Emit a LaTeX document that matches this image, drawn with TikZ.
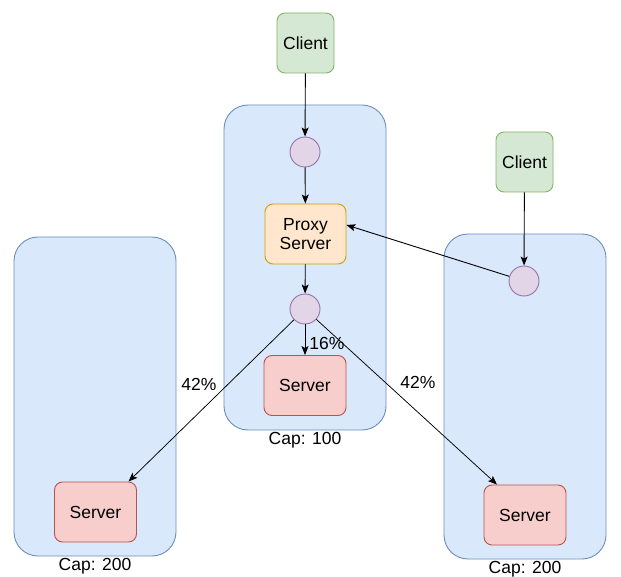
\documentclass[tikz,border=0pt]{standalone}
\usepackage{fontspec}
\setmainfont{Liberation Sans}
\usetikzlibrary{arrows.meta}
\definecolor{bfill}{HTML}{DAE8FC}\definecolor{bline}{HTML}{6C8EBF}
\definecolor{gfill}{HTML}{D5E8D4}\definecolor{gline}{HTML}{82B366}
\definecolor{ofill}{HTML}{FFE6CC}\definecolor{oline}{HTML}{D79B00}
\definecolor{rfill}{HTML}{F8CECC}\definecolor{rline}{HTML}{B85450}
\definecolor{pfill}{HTML}{E1D5E7}\definecolor{pline}{HTML}{9673A6}
\begin{document}
\begin{tikzpicture}[x=1pt,y=-1pt,
  font=\fontsize{17.5}{20.5}\selectfont,
  container/.style={draw=bline,fill=bfill,rounded corners=24pt,line width=0.9pt,minimum width=162pt},
  client/.style={draw=gline,fill=gfill,rounded corners=8pt,line width=0.9pt,minimum width=57pt,minimum height=60pt,inner sep=0pt},
  proxy/.style={draw=oline,fill=ofill,rounded corners=8pt,line width=0.9pt,minimum width=81pt,minimum height=60pt,inner sep=0pt,align=center},
  server/.style={draw=rline,fill=rfill,rounded corners=8pt,line width=0.9pt,minimum width=82pt,minimum height=60pt,inner sep=0pt},
  hub/.style={circle,draw=pline,fill=pfill,line width=0.9pt,minimum size=30pt,inner sep=0pt},
  lbl/.style={inner sep=1pt},
  conn/.style={line width=0.9pt,-{Stealth[length=9pt,width=7pt,inset=2pt]}},
  thin/.style={line width=0.75pt,-{Stealth[length=9pt,width=7pt,inset=2pt]}}
]
\useasboundingbox (0,0) rectangle (621,577);
% containers
\node[container,minimum height=319pt] (lbox) at (95,396.5) {};
\node[container,minimum height=325pt] (cbox) at (305,267.5) {};
\node[container,minimum height=325pt] (rbox) at (525,396.5) {};
\node[lbl] (capl) at (95,566) {Cap: 200};
\node[lbl] (capc) at (305,440) {Cap: 100};
\node[lbl] (capr) at (525,569) {Cap: 200};
% nodes
\node[client] (cl1) at (305.5,43) {Client};
\node[client] (cl2) at (524.5,162) {Client};
\node[hub] (h1) at (305,152) {};
\node[proxy] (px) at (305.5,234) {Proxy\\[-1pt]Server};
\node[hub] (h2) at (305,309) {};
\node[hub] (h3) at (524,281) {};
\node[server] (sc) at (305,385.5) {Server};
\node[server] (sl) at (95.5,512) {Server};
\node[server] (sr) at (525,515) {Server};
% connectors
\draw[conn] (cl1) -- (h1);
\draw[conn] (h1) -- (px);
\draw[conn] (px) -- (h2);
\draw[conn] (cl2) -- (h3);
\draw[conn] (h3) -- ([yshift=9pt]px.east);
\draw[conn] (h2) -- (sc);
\draw[thin] (h2) -- ([xshift=33pt]sl.north);
\draw[thin] (h2) -- ([xshift=-28pt]sr.north);
% labels
\node[lbl] (p16) at (327,343) {16\%};
\node[lbl] (p42l) at (199,384) {42\%};
\node[lbl] (p42r) at (418,382) {42\%};
\end{tikzpicture}
\end{document}
